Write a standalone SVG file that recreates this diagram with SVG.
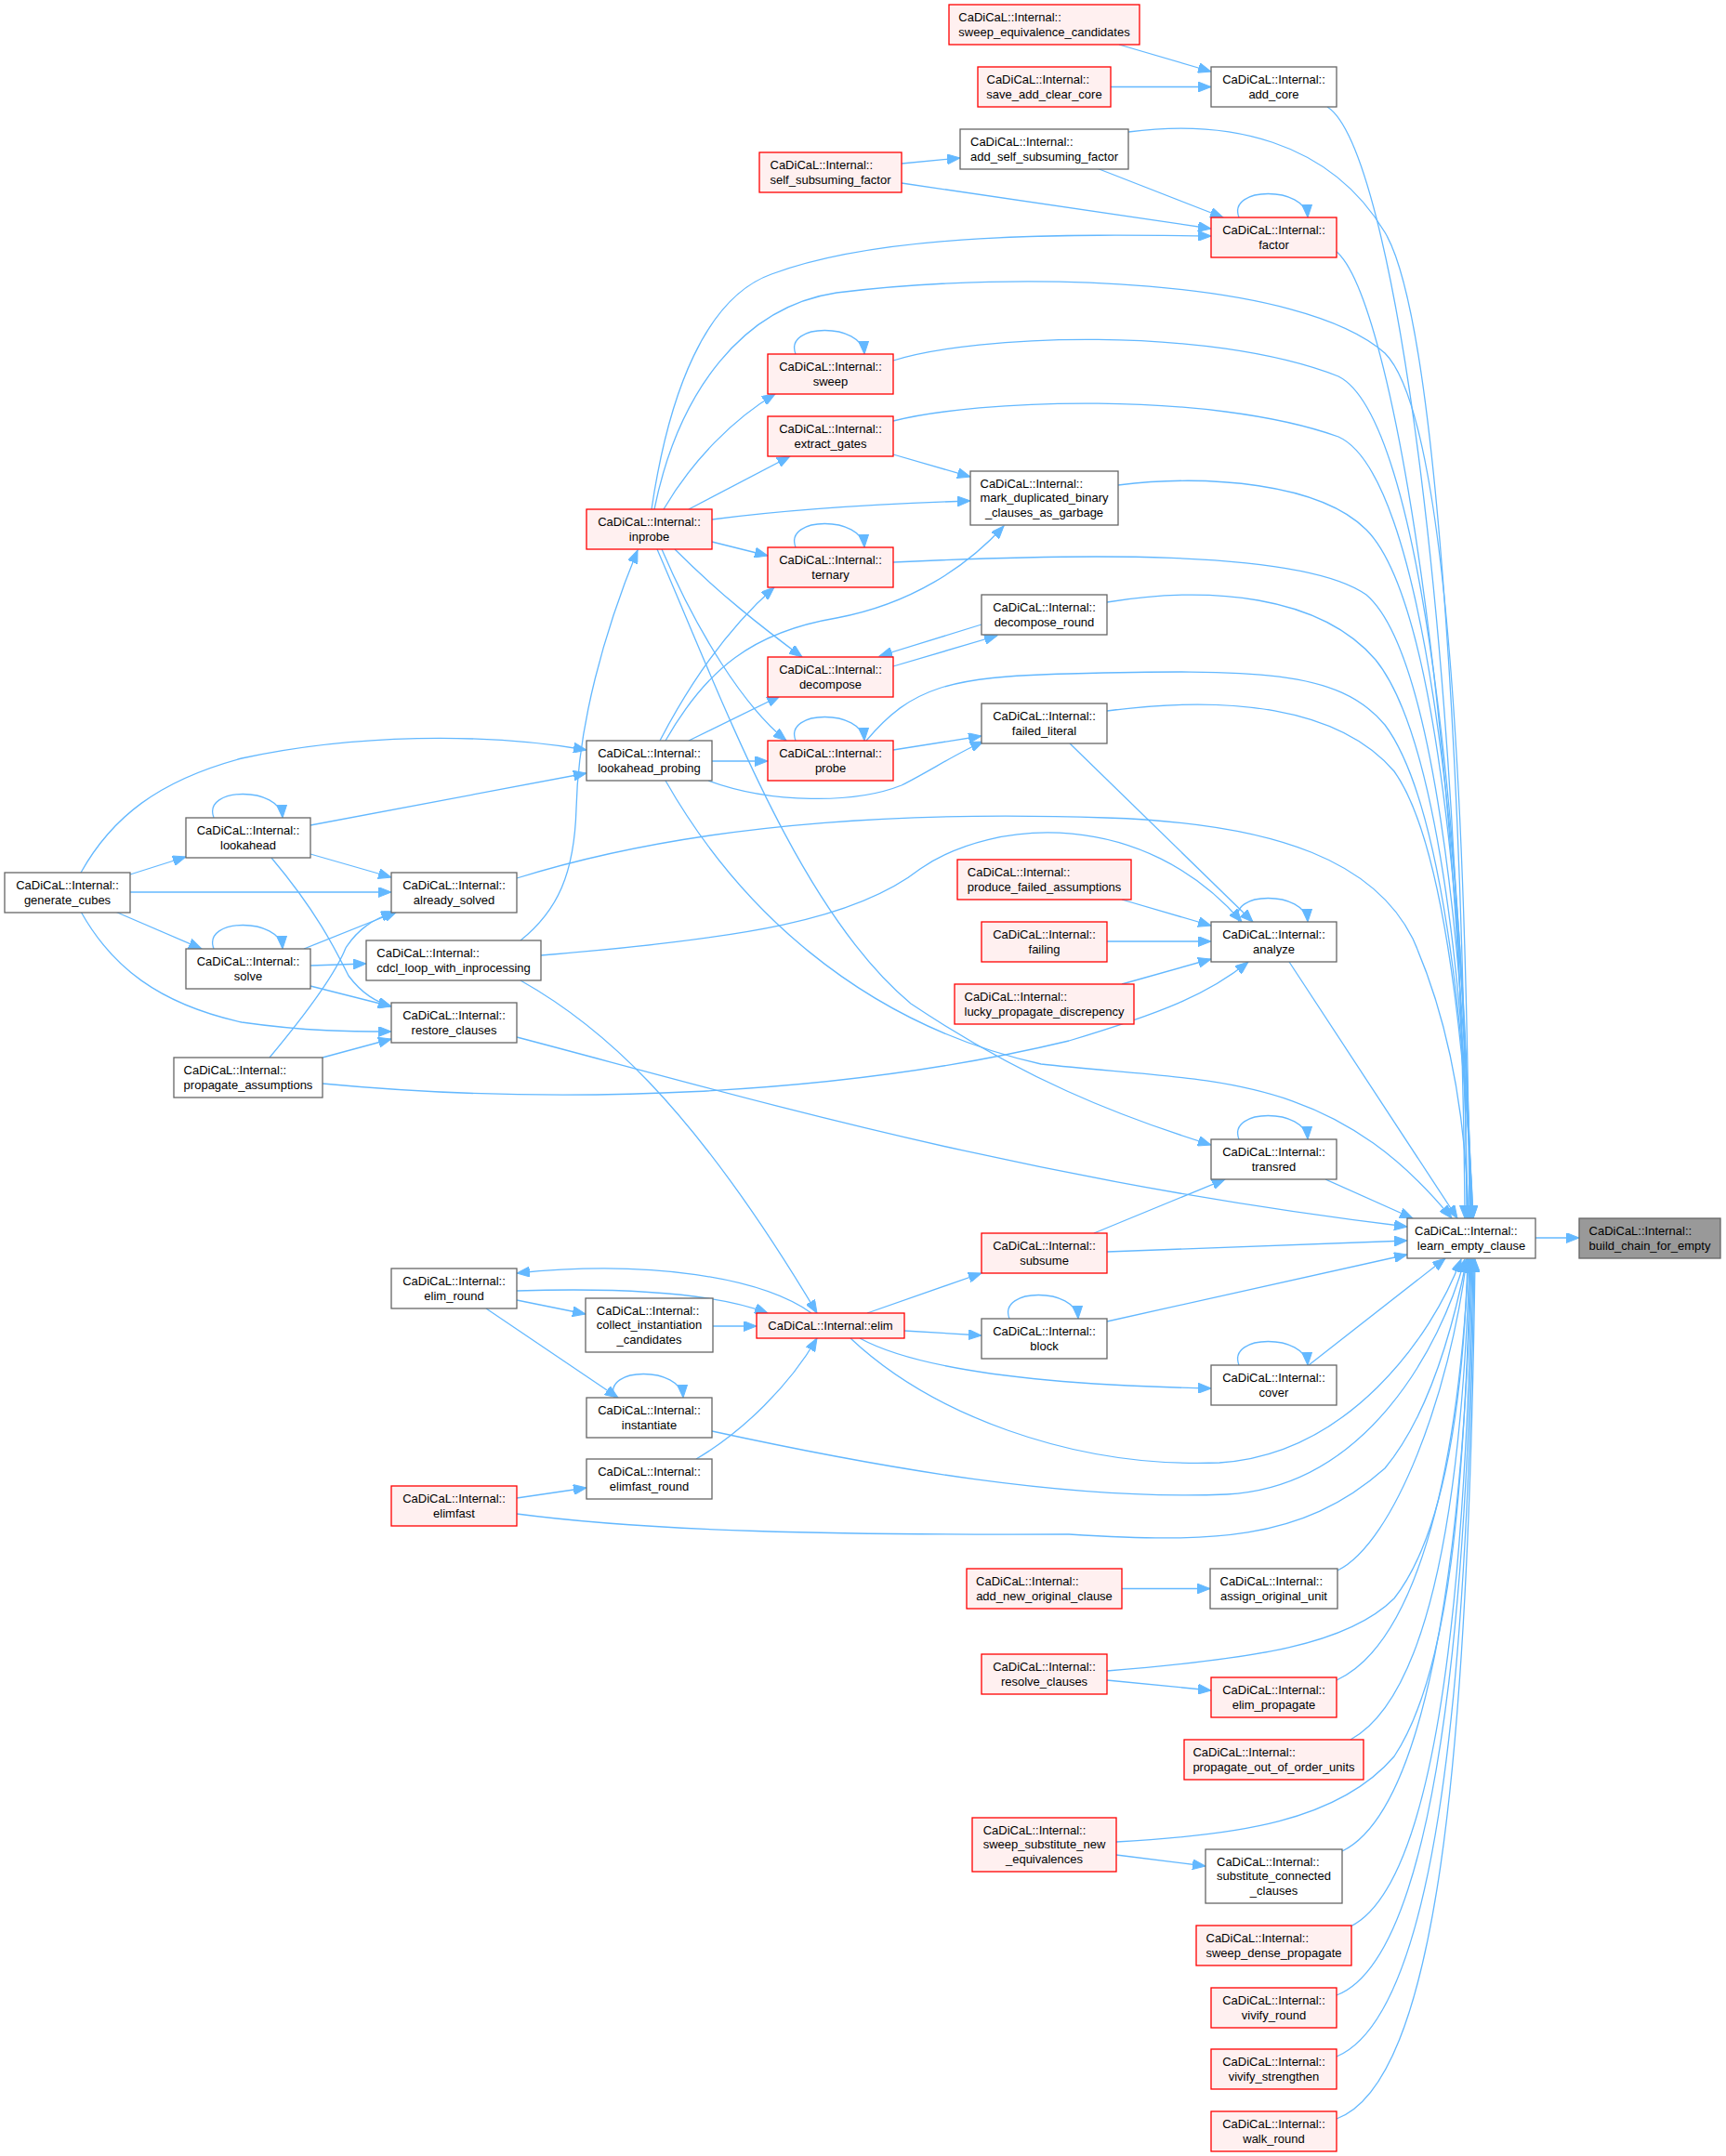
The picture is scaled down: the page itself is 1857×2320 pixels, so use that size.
<svg xmlns="http://www.w3.org/2000/svg" width="1857" height="2320" viewBox="0 0 1857 2320">
<defs>
<marker id="a" markerWidth="15" markerHeight="11" refX="14" refY="5.5" orient="auto" markerUnits="userSpaceOnUse"><path d="M0,0 L14,5.5 L0,11 z" fill="#63b8ff" stroke="#63b8ff" stroke-width="1"/></marker>
<style>
.w{fill:#ffffff;stroke:#666666;stroke-width:1.3}
.r{fill:#fff0f0;stroke:#ff0000;stroke-width:1.3}
.g{fill:#999999;stroke:#666666;stroke-width:1.3}
text{font-family:"Liberation Sans",Arial,sans-serif;font-size:13px;fill:#000000}
.m{text-anchor:middle}
.s{text-anchor:start}
.e{fill:none;stroke:#63b8ff;stroke-width:1.3;marker-end:url(#a)}
</style>
</defs>
<rect x="0" y="0" width="1857" height="2320" fill="#ffffff"/>
<g id="edges">
<path class="e" d="M1652,1332 L1699,1332"/>
<path class="e" d="M1204,48 L1303,77"/>
<path class="e" d="M1195,93.5 L1303,93.5"/>
<path class="e" d="M1428,115 C1500,160 1572,700 1576,1311"/>
<path class="e" d="M970,176 L1033,170"/>
<path class="e" d="M970,197 L1303,246"/>
<path class="e" d="M1180,181 L1316,234"/>
<path class="e" d="M1214,142 C1320,128 1430,150 1490,250 C1550,350 1575,900 1578,1311"/>
<path class="e" d="M1333,234 C1320,200 1405,200 1407,234"/>
<path class="e" d="M1437,270 C1500,320 1572,800 1579,1311"/>
<path class="e" d="M701,548 C720,420 760,320 830,295 C950,250 1150,252 1303,254"/>
<path class="e" d="M704,548 C730,420 800,330 900,315 C1100,290 1400,300 1490,380 C1560,450 1578,900 1581,1311"/>
<path class="e" d="M714,548 C745,495 790,450 834,424"/>
<path class="e" d="M856,381 C843,347 928,347 930,381"/>
<path class="e" d="M961,388 C1050,360 1300,350 1440,405 C1530,450 1575,900 1582,1311"/>
<path class="e" d="M741,548 L850,491"/>
<path class="e" d="M961,453 C1050,430 1300,420 1440,470 C1530,510 1575,900 1583,1311"/>
<path class="e" d="M961,489 L1044,513"/>
<path class="e" d="M766,559 C850,548 950,542 1044,539"/>
<path class="e" d="M1203,522 C1300,510 1420,520 1470,570 C1540,640 1575,950 1583,1311"/>
<path class="e" d="M766,583 L826,598"/>
<path class="e" d="M856,589 C843,555 928,555 930,589"/>
<path class="e" d="M961,605 C1150,596 1400,590 1470,640 C1540,700 1575,1000 1584,1311"/>
<path class="e" d="M710,797 C750,720 790,670 833,632"/>
<path class="e" d="M716,797 C760,720 810,680 900,665 C980,650 1040,610 1080,566"/>
<path class="e" d="M1056,672 L946,706"/>
<path class="e" d="M961,717 L1073,684"/>
<path class="e" d="M1191,648 C1300,630 1420,640 1480,710 C1545,790 1575,1050 1584,1311"/>
<path class="e" d="M726,591 C775,640 820,675 863,707"/>
<path class="e" d="M741,797 L839,749"/>
<path class="e" d="M712,591 C750,680 800,760 846,797"/>
<path class="e" d="M766,819 L826,819"/>
<path class="e" d="M856,797 C843,763 928,763 930,797"/>
<path class="e" d="M932,797 C980,740 1020,728 1150,725 C1350,720 1440,720 1490,780 C1550,860 1576,1100 1585,1311"/>
<path class="e" d="M961,807 L1056,792"/>
<path class="e" d="M762,840 C830,865 920,865 970,845 C1000,830 1030,810 1058,798"/>
<path class="e" d="M1191,765 C1320,748 1440,760 1500,830 C1550,900 1575,1100 1585,1311"/>
<path class="e" d="M1151,800 L1348,992"/>
<path class="e" d="M716,840 C790,970 920,1100 1120,1145 C1300,1165 1430,1150 1562,1311"/>
<path class="e" d="M707,591 C780,760 860,980 980,1080 C1100,1160 1200,1200 1303,1232"/>
<path class="e" d="M560,1012 C600,980 618,940 620,870 C622,780 650,680 686,592"/>
<path class="e" d="M87,939 C120,880 170,840 260,816 C380,790 520,788 631,807"/>
<path class="e" d="M334,888 L631,832"/>
<path class="e" d="M140,941 L200,922"/>
<path class="e" d="M140,960 L421,960"/>
<path class="e" d="M124,981 L217,1021"/>
<path class="e" d="M87,981 C120,1040 170,1080 260,1100 C330,1110 380,1110 421,1110"/>
<path class="e" d="M230,880 C217,846 302,846 304,880"/>
<path class="e" d="M334,919 L421,944"/>
<path class="e" d="M292,923 C340,980 360,1020 375,1050 C390,1070 405,1078 421,1083"/>
<path class="e" d="M230,1021 C217,987 302,987 304,1021"/>
<path class="e" d="M327,1021 L427,981"/>
<path class="e" d="M334,1039 L394,1037"/>
<path class="e" d="M334,1061 L421,1083"/>
<path class="e" d="M290,1138 C330,1090 360,1050 372,1020 C385,1000 400,990 424,981"/>
<path class="e" d="M347,1138 L421,1118"/>
<path class="e" d="M347,1166 C600,1190 900,1180 1150,1120 C1250,1090 1300,1070 1343,1035"/>
<path class="e" d="M556,945 C700,900 900,870 1190,880 C1380,886 1480,930 1520,1010 C1560,1100 1577,1200 1580,1311"/>
<path class="e" d="M582,1028 C800,1010 920,990 990,935 C1070,880 1230,870 1336,992"/>
<path class="e" d="M560,1055 C640,1100 740,1180 879,1413"/>
<path class="e" d="M556,1116 C800,1180 1100,1270 1514,1320"/>
<path class="e" d="M1207,968 L1303,996"/>
<path class="e" d="M1191,1013 L1303,1013"/>
<path class="e" d="M1207,1059 L1303,1032"/>
<path class="e" d="M1333,992 C1320,958 1405,958 1407,992"/>
<path class="e" d="M1387,1035 L1568,1311"/>
<path class="e" d="M1333,1226 C1320,1192 1405,1192 1407,1226"/>
<path class="e" d="M1426,1269 L1520,1311"/>
<path class="e" d="M1177,1327 L1318,1269"/>
<path class="e" d="M1191,1347 L1514,1335"/>
<path class="e" d="M933,1413 L1056,1370"/>
<path class="e" d="M973,1432 L1056,1437"/>
<path class="e" d="M1086,1419 C1073,1385 1158,1385 1160,1419"/>
<path class="e" d="M1191,1422 L1514,1350"/>
<path class="e" d="M925,1440 C980,1470 1100,1490 1303,1494"/>
<path class="e" d="M1333,1469 C1320,1435 1405,1435 1407,1469"/>
<path class="e" d="M1408,1469 L1555,1354"/>
<path class="e" d="M915,1440 C1000,1520 1150,1580 1312,1574 C1450,1565 1540,1440 1572,1355"/>
<path class="e" d="M873,1413 C820,1375 700,1355 556,1370"/>
<path class="e" d="M556,1389 C650,1386 760,1388 826,1413"/>
<path class="e" d="M556,1399 L630,1414"/>
<path class="e" d="M767,1427 L814,1427"/>
<path class="e" d="M523,1408 L665,1504"/>
<path class="e" d="M661,1504 C648,1470 733,1470 735,1504"/>
<path class="e" d="M766,1540 C950,1580 1150,1615 1320,1608 C1470,1600 1550,1450 1576,1355"/>
<path class="e" d="M749,1570 C800,1540 850,1490 879,1440"/>
<path class="e" d="M556,1612 L631,1601"/>
<path class="e" d="M556,1629 C700,1648 900,1652 1150,1651 C1300,1660 1400,1660 1490,1580 C1540,1520 1565,1420 1578,1355"/>
<path class="e" d="M1207,1709.5 L1302,1709.5"/>
<path class="e" d="M1439,1690 C1500,1660 1560,1500 1578,1355"/>
<path class="e" d="M1191,1798 C1350,1785 1450,1770 1500,1720 C1555,1650 1575,1500 1579,1355"/>
<path class="e" d="M1191,1808 L1303,1819"/>
<path class="e" d="M1438,1808 C1520,1770 1568,1600 1580,1355"/>
<path class="e" d="M1453,1872 C1530,1830 1572,1650 1581,1355"/>
<path class="e" d="M1201,1982 C1330,1975 1440,1960 1500,1890 C1560,1800 1576,1600 1582,1355"/>
<path class="e" d="M1201,1996 L1297,2008"/>
<path class="e" d="M1444,1992 C1530,1950 1574,1700 1583,1355"/>
<path class="e" d="M1453,2073 C1540,2030 1576,1750 1584,1355"/>
<path class="e" d="M1438,2147 C1535,2110 1578,1800 1585,1355"/>
<path class="e" d="M1438,2213 C1540,2170 1579,1850 1586,1355"/>
<path class="e" d="M1438,2280 C1545,2240 1580,1900 1587,1355"/>
</g>
<g id="n_build_chain_for_empty"><rect class="g" x="1699" y="1311" width="152" height="43"/><text class="s" x="1709.6" y="1329">CaDiCaL::Internal::</text><text class="m" x="1775" y="1344.5">build_chain_for_empty</text></g>
<g id="n_learn_empty_clause"><rect class="w" x="1514" y="1311" width="138" height="43"/><text class="s" x="1522" y="1329">CaDiCaL::Internal::</text><text class="m" x="1583" y="1344.5">learn_empty_clause</text></g>
<g id="n_add_core"><rect class="w" x="1303" y="72" width="135" height="43"/><text class="m" x="1370.5" y="90">CaDiCaL::Internal::</text><text class="m" x="1370.5" y="105.5">add_core</text></g>
<g id="n_sweep_equivalence_candidates"><rect class="r" x="1021" y="5" width="205" height="43"/><text class="s" x="1031.3" y="23">CaDiCaL::Internal::</text><text class="m" x="1123.5" y="38.5">sweep_equivalence_candidates</text></g>
<g id="n_save_add_clear_core"><rect class="r" x="1052" y="72" width="143" height="43"/><text class="s" x="1061.5" y="90">CaDiCaL::Internal::</text><text class="m" x="1123.5" y="105.5">save_add_clear_core</text></g>
<g id="n_add_self_subsuming_factor"><rect class="w" x="1033" y="139" width="181" height="43"/><text class="s" x="1044" y="157">CaDiCaL::Internal::</text><text class="m" x="1123.5" y="172.5">add_self_subsuming_factor</text></g>
<g id="n_self_subsuming_factor"><rect class="r" x="817" y="164" width="153" height="43"/><text class="s" x="828.5" y="182">CaDiCaL::Internal::</text><text class="m" x="893.5" y="197.5">self_subsuming_factor</text></g>
<g id="n_factor"><rect class="r" x="1303" y="234" width="135" height="43"/><text class="m" x="1370.5" y="252">CaDiCaL::Internal::</text><text class="m" x="1370.5" y="267.5">factor</text></g>
<g id="n_sweep"><rect class="r" x="826" y="381" width="135" height="43"/><text class="m" x="893.5" y="399">CaDiCaL::Internal::</text><text class="m" x="893.5" y="414.5">sweep</text></g>
<g id="n_extract_gates"><rect class="r" x="826" y="448" width="135" height="43"/><text class="m" x="893.5" y="466">CaDiCaL::Internal::</text><text class="m" x="893.5" y="481.5">extract_gates</text></g>
<g id="n_mark_duplicated_binary_clauses_as_garbage"><rect class="w" x="1044" y="507" width="159" height="58"/><text class="s" x="1054.5" y="524.5">CaDiCaL::Internal::</text><text class="m" x="1123.5" y="540">mark_duplicated_binary</text><text class="m" x="1123.5" y="555.5">_clauses_as_garbage</text></g>
<g id="n_inprobe"><rect class="r" x="631" y="548" width="135" height="43"/><text class="m" x="698.5" y="566">CaDiCaL::Internal::</text><text class="m" x="698.5" y="581.5">inprobe</text></g>
<g id="n_ternary"><rect class="r" x="826" y="589" width="135" height="43"/><text class="m" x="893.5" y="607">CaDiCaL::Internal::</text><text class="m" x="893.5" y="622.5">ternary</text></g>
<g id="n_decompose_round"><rect class="w" x="1056" y="640" width="135" height="43"/><text class="m" x="1123.5" y="658">CaDiCaL::Internal::</text><text class="m" x="1123.5" y="673.5">decompose_round</text></g>
<g id="n_decompose"><rect class="r" x="826" y="707" width="135" height="43"/><text class="m" x="893.5" y="725">CaDiCaL::Internal::</text><text class="m" x="893.5" y="740.5">decompose</text></g>
<g id="n_failed_literal"><rect class="w" x="1056" y="757" width="135" height="43"/><text class="m" x="1123.5" y="775">CaDiCaL::Internal::</text><text class="m" x="1123.5" y="790.5">failed_literal</text></g>
<g id="n_lookahead_probing"><rect class="w" x="631" y="797" width="135" height="43"/><text class="m" x="698.5" y="815">CaDiCaL::Internal::</text><text class="m" x="698.5" y="830.5">lookahead_probing</text></g>
<g id="n_probe"><rect class="r" x="826" y="797" width="135" height="43"/><text class="m" x="893.5" y="815">CaDiCaL::Internal::</text><text class="m" x="893.5" y="830.5">probe</text></g>
<g id="n_generate_cubes"><rect class="w" x="5" y="939" width="135" height="43"/><text class="m" x="72.5" y="957">CaDiCaL::Internal::</text><text class="m" x="72.5" y="972.5">generate_cubes</text></g>
<g id="n_lookahead"><rect class="w" x="200" y="880" width="134" height="43"/><text class="m" x="267" y="898">CaDiCaL::Internal::</text><text class="m" x="267" y="913.5">lookahead</text></g>
<g id="n_already_solved"><rect class="w" x="421" y="939" width="135" height="43"/><text class="m" x="488.5" y="957">CaDiCaL::Internal::</text><text class="m" x="488.5" y="972.5">already_solved</text></g>
<g id="n_solve"><rect class="w" x="200" y="1021" width="134" height="43"/><text class="m" x="267" y="1039">CaDiCaL::Internal::</text><text class="m" x="267" y="1054.5">solve</text></g>
<g id="n_cdcl_loop_with_inprocessing"><rect class="w" x="394" y="1012" width="188" height="43"/><text class="s" x="405.3" y="1030">CaDiCaL::Internal::</text><text class="m" x="488" y="1045.5">cdcl_loop_with_inprocessing</text></g>
<g id="n_restore_clauses"><rect class="w" x="421" y="1079" width="135" height="43"/><text class="m" x="488.5" y="1097">CaDiCaL::Internal::</text><text class="m" x="488.5" y="1112.5">restore_clauses</text></g>
<g id="n_propagate_assumptions"><rect class="w" x="187" y="1138" width="160" height="43"/><text class="s" x="197.6" y="1156">CaDiCaL::Internal::</text><text class="m" x="267" y="1171.5">propagate_assumptions</text></g>
<g id="n_produce_failed_assumptions"><rect class="r" x="1030" y="925" width="187" height="43"/><text class="s" x="1040.8" y="943">CaDiCaL::Internal::</text><text class="m" x="1123.5" y="958.5">produce_failed_assumptions</text></g>
<g id="n_failing"><rect class="r" x="1056" y="992" width="135" height="43"/><text class="m" x="1123.5" y="1010">CaDiCaL::Internal::</text><text class="m" x="1123.5" y="1025.5">failing</text></g>
<g id="n_lucky_propagate_discrepency"><rect class="r" x="1027" y="1059" width="193" height="43"/><text class="s" x="1037.5" y="1077">CaDiCaL::Internal::</text><text class="m" x="1123.5" y="1092.5">lucky_propagate_discrepency</text></g>
<g id="n_analyze"><rect class="w" x="1303" y="992" width="135" height="43"/><text class="m" x="1370.5" y="1010">CaDiCaL::Internal::</text><text class="m" x="1370.5" y="1025.5">analyze</text></g>
<g id="n_transred"><rect class="w" x="1303" y="1226" width="135" height="43"/><text class="m" x="1370.5" y="1244">CaDiCaL::Internal::</text><text class="m" x="1370.5" y="1259.5">transred</text></g>
<g id="n_subsume"><rect class="r" x="1056" y="1327" width="135" height="43"/><text class="m" x="1123.5" y="1345">CaDiCaL::Internal::</text><text class="m" x="1123.5" y="1360.5">subsume</text></g>
<g id="n_block"><rect class="w" x="1056" y="1419" width="135" height="43"/><text class="m" x="1123.5" y="1437">CaDiCaL::Internal::</text><text class="m" x="1123.5" y="1452.5">block</text></g>
<g id="n_cover"><rect class="w" x="1303" y="1469" width="135" height="43"/><text class="m" x="1370.5" y="1487">CaDiCaL::Internal::</text><text class="m" x="1370.5" y="1502.5">cover</text></g>
<g id="n_elim_round"><rect class="w" x="421" y="1365" width="135" height="43"/><text class="m" x="488.5" y="1383">CaDiCaL::Internal::</text><text class="m" x="488.5" y="1398.5">elim_round</text></g>
<g id="n_collect_instantiation_candidates"><rect class="w" x="630" y="1397" width="137" height="58"/><text class="s" x="641.8" y="1414.5">CaDiCaL::Internal::</text><text class="m" x="698.5" y="1430">collect_instantiation</text><text class="m" x="698.5" y="1445.5">_candidates</text></g>
<g id="n_elim"><rect class="r" x="814" y="1413" width="159" height="27"/><text class="m" x="893.5" y="1431">CaDiCaL::Internal::elim</text></g>
<g id="n_instantiate"><rect class="w" x="631" y="1504" width="135" height="43"/><text class="m" x="698.5" y="1522">CaDiCaL::Internal::</text><text class="m" x="698.5" y="1537.5">instantiate</text></g>
<g id="n_elimfast_round"><rect class="w" x="631" y="1570" width="135" height="43"/><text class="m" x="698.5" y="1588">CaDiCaL::Internal::</text><text class="m" x="698.5" y="1603.5">elimfast_round</text></g>
<g id="n_elimfast"><rect class="r" x="421" y="1599" width="135" height="43"/><text class="m" x="488.5" y="1617">CaDiCaL::Internal::</text><text class="m" x="488.5" y="1632.5">elimfast</text></g>
<g id="n_add_new_original_clause"><rect class="r" x="1040" y="1688" width="167" height="43"/><text class="s" x="1050.1" y="1706">CaDiCaL::Internal::</text><text class="m" x="1123.5" y="1721.5">add_new_original_clause</text></g>
<g id="n_assign_original_unit"><rect class="w" x="1302" y="1688" width="137" height="43"/><text class="s" x="1312.5" y="1706">CaDiCaL::Internal::</text><text class="m" x="1370.5" y="1721.5">assign_original_unit</text></g>
<g id="n_resolve_clauses"><rect class="r" x="1056" y="1780" width="135" height="43"/><text class="m" x="1123.5" y="1798">CaDiCaL::Internal::</text><text class="m" x="1123.5" y="1813.5">resolve_clauses</text></g>
<g id="n_elim_propagate"><rect class="r" x="1303" y="1805" width="135" height="43"/><text class="m" x="1370.5" y="1823">CaDiCaL::Internal::</text><text class="m" x="1370.5" y="1838.5">elim_propagate</text></g>
<g id="n_propagate_out_of_order_units"><rect class="r" x="1274" y="1872" width="193" height="43"/><text class="s" x="1283.4" y="1890">CaDiCaL::Internal::</text><text class="m" x="1370.5" y="1905.5">propagate_out_of_order_units</text></g>
<g id="n_sweep_substitute_new_equivalences"><rect class="r" x="1046" y="1956" width="155" height="58"/><text class="s" x="1057.7" y="1973.5">CaDiCaL::Internal::</text><text class="m" x="1123.5" y="1989">sweep_substitute_new</text><text class="m" x="1123.5" y="2004.5">_equivalences</text></g>
<g id="n_substitute_connected_clauses"><rect class="w" x="1297" y="1990" width="147" height="58"/><text class="s" x="1309" y="2007.5">CaDiCaL::Internal::</text><text class="m" x="1370.5" y="2023">substitute_connected</text><text class="m" x="1370.5" y="2038.5">_clauses</text></g>
<g id="n_sweep_dense_propagate"><rect class="r" x="1287" y="2072" width="167" height="43"/><text class="s" x="1297.5" y="2090">CaDiCaL::Internal::</text><text class="m" x="1370.5" y="2105.5">sweep_dense_propagate</text></g>
<g id="n_vivify_round"><rect class="r" x="1303" y="2139" width="135" height="43"/><text class="m" x="1370.5" y="2157">CaDiCaL::Internal::</text><text class="m" x="1370.5" y="2172.5">vivify_round</text></g>
<g id="n_vivify_strengthen"><rect class="r" x="1303" y="2205" width="135" height="43"/><text class="m" x="1370.5" y="2223">CaDiCaL::Internal::</text><text class="m" x="1370.5" y="2238.5">vivify_strengthen</text></g>
<g id="n_walk_round"><rect class="r" x="1303" y="2272" width="135" height="43"/><text class="m" x="1370.5" y="2290">CaDiCaL::Internal::</text><text class="m" x="1370.5" y="2305.5">walk_round</text></g>
</svg>
